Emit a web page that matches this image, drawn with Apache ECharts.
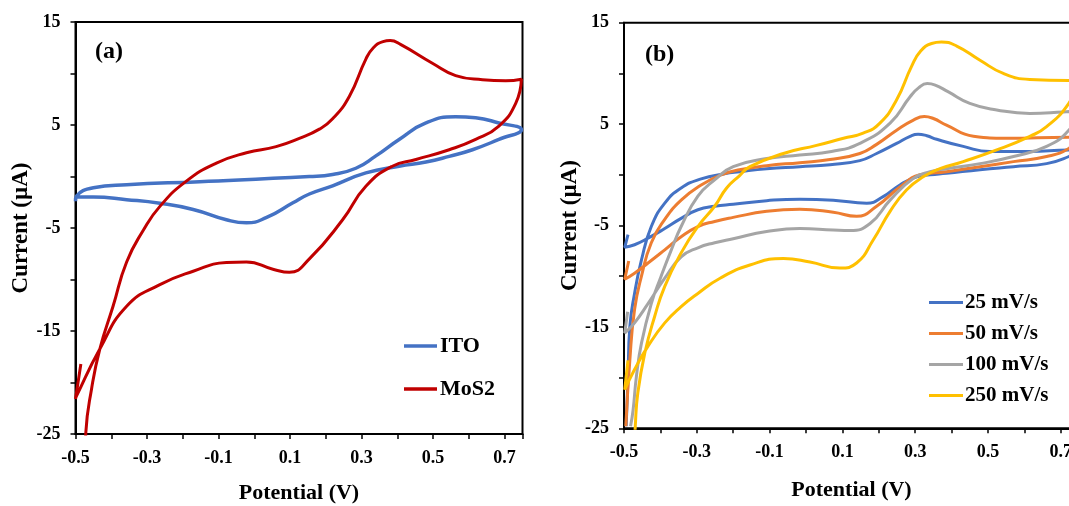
<!DOCTYPE html>
<html>
<head>
<meta charset="utf-8">
<script src="https://cdn.jsdelivr.net/npm/echarts@6/dist/echarts.min.js"></script>
<style>
  html, body { margin: 0; padding: 0; background: #fff; }
  #chart { width: 1069px; height: 506px; }
</style>
</head>
<body>
<div id="chart"></div>
<script>
// tick labels (ticks every 5 / 0.1, only every other one labelled)
const yTickLabels = [15, 5, -5, -15, -25];
const xTickLabels = [-0.5, -0.3, -0.1, 0.1, 0.3, 0.5, 0.7];

// panel (a): [potential V, current uA], in scan order
const itoCurve = [
  [-0.5, -2.4], [-0.497, -1.9], [-0.45, -1.1], [-0.357, -0.8], [-0.153, -0.5], [0.154, 0.0],
  [0.219, 0.2], [0.284, 0.8], [0.34, 2.0], [0.405, 3.6], [0.48, 5.2], [0.563, 5.8],
  [0.619, 5.7], [0.684, 5.2], [0.747, 4.55],
  [0.684, 3.6], [0.61, 2.6], [0.545, 1.95], [0.48, 1.4], [0.405, 1.0], [0.312, 0.35],
  [0.219, -0.9], [0.154, -1.7], [0.108, -2.55], [0.033, -4.0], [-0.022, -4.5], [-0.078, -4.2],
  [-0.171, -3.2], [-0.264, -2.6], [-0.357, -2.25], [-0.45, -2.0], [-0.5, -2.0]
];
const mos2Curve = [
  [-0.472, -26], [-0.471, -24.8], [-0.455, -20.6], [-0.432, -16.75], [-0.395, -12.6], [-0.357, -8.3],
  [-0.31, -5.2], [-0.264, -2.9], [-0.19, -0.45], [-0.106, 1.3], [-0.022, 2.3], [0.061, 2.9],
  [0.126, 3.7], [0.182, 4.6], [0.219, 5.6], [0.266, 7.8], [0.312, 11.4], [0.333, 12.5],
  [0.36, 13.1], [0.38, 13.2], [0.41, 12.8], [0.498, 11.0], [0.563, 9.8], [0.638, 9.4],
  [0.703, 9.3], [0.747, 9.45],
  [0.731, 7.1], [0.684, 4.9], [0.619, 3.6], [0.545, 2.6], [0.452, 1.65], [0.386, 1.0],
  [0.312, -0.95], [0.247, -4.2], [0.154, -8.0], [0.098, -9.3], [0.052, -9.0], [-0.022, -8.3],
  [-0.078, -8.35], [-0.171, -9.2], [-0.264, -10.5], [-0.357, -12.6], [-0.432, -16.75],
  [-0.497, -21.3], [-0.5, -21.6], [-0.485, -18.2]
];

// panel (b): scan rates
const rateNames = ['25 mV/s', '50 mV/s', '100 mV/s', '250 mV/s'];
const scan25 = [
  [-0.494, -24.8], [-0.489, -19.9], [-0.484, -15.0], [-0.471, -11.7], [-0.452, -8.4], [-0.425, -5.1],
  [-0.388, -2.8], [-0.343, -1.3], [-0.288, -0.4], [-0.224, 0.1], [-0.183, 0.3], [-0.108, 0.6],
  [-0.017, 0.8], [0.066, 1.0], [0.148, 1.4], [0.194, 2.1], [0.249, 3.1], [0.286, 3.8],
  [0.308, 4.0], [0.332, 3.85], [0.359, 3.5], [0.432, 2.8], [0.505, 2.3], [0.615, 2.3],
  [0.722, 2.45], [0.75, 2.4],
  [0.722, 1.8], [0.661, 1.1], [0.57, 0.8], [0.478, 0.5], [0.386, 0.15], [0.341, 0.0],
  [0.304, -0.2], [0.258, -1.0], [0.212, -2.15], [0.167, -2.8], [0.075, -2.5], [-0.017, -2.4],
  [-0.108, -2.55], [-0.2, -2.9], [-0.251, -3.1], [-0.297, -3.45], [-0.343, -4.3], [-0.388, -5.3],
  [-0.434, -6.25], [-0.471, -6.9], [-0.498, -7.15], [-0.489, -5.9]
];
const scan50 = [
  [-0.495, -24.8], [-0.484, -18.3], [-0.471, -13.3], [-0.452, -10.0], [-0.425, -6.7], [-0.388, -4.4],
  [-0.343, -2.5], [-0.288, -1.0], [-0.233, 0.0], [-0.183, 0.5], [-0.108, 0.9], [-0.017, 1.2],
  [0.066, 1.5], [0.148, 2.1], [0.194, 3.0], [0.249, 4.4], [0.295, 5.4], [0.325, 5.75],
  [0.35, 5.55], [0.386, 4.9], [0.46, 3.8], [0.551, 3.6], [0.722, 3.7], [0.75, 3.7],
  [0.722, 2.6], [0.661, 1.8], [0.57, 1.3], [0.478, 0.8], [0.386, 0.3], [0.313, 0.0],
  [0.258, -1.2], [0.194, -3.1], [0.139, -4.1], [0.075, -3.7], [-0.017, -3.4], [-0.108, -3.6],
  [-0.2, -4.2], [-0.251, -4.6], [-0.297, -5.1], [-0.343, -6.1], [-0.388, -7.4], [-0.434, -8.7],
  [-0.471, -9.7], [-0.498, -10.3], [-0.487, -8.5]
];
const scan100 = [
  [-0.482, -24.8], [-0.475, -23.2], [-0.466, -19.9], [-0.452, -16.6], [-0.425, -12.7], [-0.398, -10.0],
  [-0.37, -7.4], [-0.343, -5.1], [-0.297, -2.1], [-0.251, -0.5], [-0.2, 0.8], [-0.108, 1.6],
  [-0.017, 1.95], [0.07, 2.3], [0.148, 3.1], [0.231, 5.1], [0.286, 7.7], [0.31, 8.6],
  [0.333, 9.0], [0.355, 8.85], [0.39, 8.2], [0.45, 7.05], [0.524, 6.4], [0.615, 6.05],
  [0.707, 6.2], [0.75, 6.3],
  [0.722, 4.4], [0.661, 2.8], [0.57, 1.8], [0.478, 1.1], [0.386, 0.6], [0.341, 0.3],
  [0.295, -0.35], [0.231, -2.5], [0.176, -4.8], [0.121, -5.5], [0.075, -5.45], [-0.017, -5.3],
  [-0.108, -5.6], [-0.2, -6.3], [-0.251, -6.7], [-0.297, -7.2], [-0.343, -8.1], [-0.388, -10.2],
  [-0.434, -12.7], [-0.471, -14.6], [-0.498, -15.6], [-0.49, -13.5]
];
const scan250 = [
  [-0.47, -26], [-0.469, -24.8], [-0.462, -21.5], [-0.443, -17.6], [-0.416, -14.0], [-0.388, -11.0],
  [-0.343, -7.7], [-0.297, -5.1], [-0.251, -3.1], [-0.218, -1.3], [-0.183, -0.1], [-0.154, 0.8],
  [-0.062, 2.1], [0.029, 2.9], [0.103, 3.6], [0.157, 4.1], [0.203, 5.1], [0.249, 7.4],
  [0.29, 10.7], [0.315, 12.2], [0.345, 12.95], [0.372, 13.1], [0.414, 12.7], [0.478, 11.3],
  [0.542, 10.0], [0.615, 9.4], [0.722, 9.3], [0.75, 9.3],
  [0.722, 7.05], [0.661, 4.75], [0.615, 3.8], [0.524, 2.45], [0.432, 1.3], [0.368, 0.6],
  [0.322, -0.2], [0.276, -1.5], [0.231, -3.6], [0.185, -6.4], [0.139, -8.7], [0.093, -9.2],
  [0.011, -8.6], [-0.062, -8.25], [-0.154, -8.9], [-0.236, -10.2], [-0.297, -11.7], [-0.343, -13.0],
  [-0.388, -14.6], [-0.434, -16.9], [-0.471, -19.2], [-0.498, -21.2], [-0.489, -18.3]
];

const FONT = '"Liberation Serif", "Times New Roman", serif';

function yLabel(v) {
  return yTickLabels.indexOf(Math.round(v)) >= 0 && Math.abs(v - Math.round(v)) < 1e-6 ? String(Math.round(v)) : '';
}
function xLabel(v) {
  for (const l of xTickLabels) {
    if (Math.abs(v - l) < 1e-6) return l.toFixed(1);
  }
  return '';
}

function xAxisCfg(gridIndex, gap) {
  return {
    type: 'value', gridIndex: gridIndex, min: -0.5, max: 0.75, interval: 0.1,
    name: 'Potential (V)', nameLocation: 'middle', nameGap: gap,
    nameTextStyle: { fontFamily: FONT, fontWeight: 'bold', fontSize: 22, color: '#000' },
    axisLine: { show: true, onZero: false, lineStyle: { color: '#000', width: 2 } },
    axisTick: { show: true, inside: false, length: 5, lineStyle: { color: '#000', width: 1.5 } },
    axisLabel: { formatter: xLabel, margin: 15, hideOverlap: false, fontFamily: FONT, fontWeight: 'bold', fontSize: 18, color: '#000' },
    splitLine: { show: false }
  };
}
function yAxisCfg(gridIndex, gap) {
  return {
    type: 'value', gridIndex: gridIndex, min: -25, max: 15, interval: 5,
    name: 'Current (\u00b5A)', nameLocation: 'middle', nameGap: gap,
    nameTextStyle: { fontFamily: FONT, fontWeight: 'bold', fontSize: 23, color: '#000' },
    axisLine: { show: true, onZero: false, lineStyle: { color: '#000', width: 2 } },
    axisTick: { show: true, inside: false, length: 5, lineStyle: { color: '#000', width: 1.5 } },
    axisLabel: { formatter: yLabel, margin: 15, hideOverlap: false, fontFamily: FONT, fontWeight: 'bold', fontSize: 18, color: '#000' },
    splitLine: { show: false }
  };
}
function curve(name, data, color, xi, width) {
  return {
    name: name, type: 'line', xAxisIndex: xi, yAxisIndex: xi, data: data,
    smooth: 0.5, showSymbol: false, symbol: 'none', clip: true,
    lineStyle: { color: color, width: width }, itemStyle: { color: color },
    emphasis: { disabled: true }
  };
}

const chart = echarts.init(document.getElementById('chart'), null, { renderer: 'canvas' });
chart.setOption({
  backgroundColor: '#fff',
  animation: false,
  grid: [
    { left: 75.5, top: 22, width: 447, height: 412, show: true, borderColor: '#000', borderWidth: 2, outerBoundsMode: 'none', containLabel: false },
    { left: 624, top: 22.7, width: 455, height: 405.6, show: true, borderColor: '#000', borderWidth: 2, outerBoundsMode: 'none', containLabel: false }
  ],
  xAxis: [xAxisCfg(0, 48), xAxisCfg(1, 51)],
  yAxis: [yAxisCfg(0, 38), yAxisCfg(1, 40)],
  legend: [
    {
      data: ['ITO', 'MoS2'], orient: 'vertical', left: 399, top: 330, itemGap: 21,
      icon: 'rect', itemWidth: 33, itemHeight: 3.5,
      textStyle: { fontFamily: FONT, fontWeight: 'bold', fontSize: 22, color: '#000', padding: [0, 0, 0, -2] }
    },
    {
      data: rateNames, orient: 'vertical', left: 924, top: 287, itemGap: 10,
      icon: 'rect', itemWidth: 34, itemHeight: 3,
      textStyle: { fontFamily: FONT, fontWeight: 'bold', fontSize: 21, color: '#000', padding: [0, 0, 0, -3] }
    }
  ],
  graphic: [
    { type: 'text', left: 95, top: 40, style: { text: '(a)', font: 'bold 24px ' + FONT, fill: '#000' } },
    { type: 'text', left: 645, top: 43, style: { text: '(b)', font: 'bold 24px ' + FONT, fill: '#000' } }
  ],
  series: [
    curve('ITO', itoCurve, '#4472C4', 0, 3.5),
    curve('MoS2', mos2Curve, '#C00000', 0, 3),
    curve(rateNames[0], scan25, '#4472C4', 1, 3),
    curve(rateNames[1], scan50, '#ED7D31', 1, 3),
    curve(rateNames[2], scan100, '#A5A5A5', 1, 3),
    curve(rateNames[3], scan250, '#FFC000', 1, 3)
  ]
});
</script>
</body>
</html>
